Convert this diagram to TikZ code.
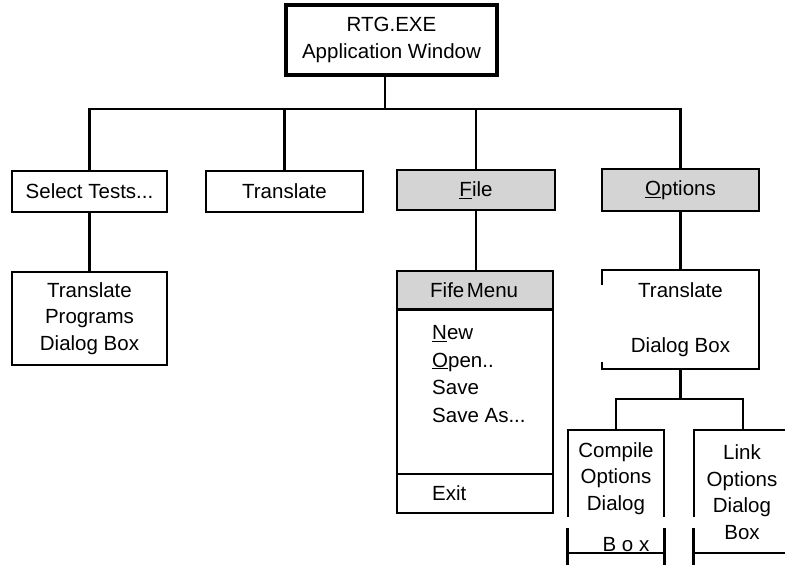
\documentclass[tikz,border=0pt]{standalone}
\usepackage{fontspec}
\setmainfont{Liberation Sans}
\begin{document}
\begin{tikzpicture}[x=1pt,y=-1pt,
  every node/.style={font=\fontsize{20.5}{26.5}\selectfont, inner sep=0pt},
  box/.style={draw, line width=2.4pt, align=center, line join=miter},
  shaded/.style={fill=black!17},
  link/.style={line width=2.4pt},
  edge/.style={line width=2.4pt, line join=miter},
  stub/.style={line width=3pt},
  txt/.style={align=center}]
\useasboundingbox (0,0) rectangle (785,565);
\clip (0,0) rectangle (785,565);

% root window
\node[box, line width=3.4pt, minimum width=211pt, minimum height=70pt] (app) at (391.5,40) {RTG.EXE\\Application Window};

% first level: menu bar items
\node[box, minimum width=155pt, minimum height=41pt] (sel) at (89.5,191.5) {Select Tests...};
\node[box, minimum width=157pt, minimum height=41pt] (tr) at (284.5,191.5) {Translate};
\node[box, shaded, minimum width=158pt, minimum height=40pt] (file) at (476,190) {\underline{F}ile};
\node[box, shaded, minimum width=157pt, minimum height=42pt] (opt) at (680.5,190) {\underline{O}ptions};

% dialog under Select Tests
\node[box, minimum width=155pt, minimum height=93pt] (progs) at (89.5,318.5) {Translate\\Programs\\Dialog Box};

% File menu
\node[shaded, minimum width=156pt, minimum height=39pt, anchor=north] (menuhead) at (475,270) {};
\node[anchor=west] (menutitle) at (430,290) {Fife\hspace{0.12em}Menu};
\draw[link] (menuhead.south west) -- (menuhead.south east);
\node[box, minimum width=156pt, minimum height=242pt, anchor=north] (menu) at (475,270) {};
\node[minimum width=156pt, minimum height=40pt, anchor=south] (exitrow) at (menu.south) {};
\draw[link] (exitrow.north west) -- (exitrow.north east);
\node[anchor=west] (exit) at (432,493) {Exit};
\node[anchor=north west, align=left, font=\fontsize{20.5}{27.7}\selectfont] (items) at (432,325)
  {\underline{N}ew\\\underline{O}pen..\\Save\\Save As...};

% Translate dialog under Options
\node[txt, minimum width=157pt, minimum height=99pt] (dlg) at (680.5,319.5) {Translate\\[28pt]Dialog Box};
\draw[edge] ([yshift=-15pt]dlg.north west) -- (dlg.north west) -- (dlg.north east)
  -- (dlg.south east) -- (dlg.south west) -- ([yshift=7pt]dlg.south west);

% Compile / Link dialogs
\node[minimum width=96pt, minimum height=135pt, anchor=north] (cmp) at (616,430) {};
\node[minimum width=98pt, minimum height=135pt, anchor=north] (lnk) at (743,430) {};
\foreach \b in {cmp,lnk} {
  \draw[edge] ([yshift=-87pt]\b.north west) -- (\b.north west) -- (\b.north east) -- ([yshift=-87pt]\b.north east);
  \draw[stub] ([yshift=-98pt]\b.north west) -- (\b.south west);
  \draw[stub] ([yshift=-98pt]\b.north east) -- (\b.south east);
  \draw[link] ([yshift=-123pt]\b.north west) -- ([yshift=-123pt]\b.north east);
}
\node[txt] (cmptext) at (616,478.5) {Compile\\Options\\Dialog};
\node (cmpbox) at (626,545) {B o x};
\node[txt] (lnktext) at (742,492) {Link\\Options\\Dialog\\Box};

% connectors
\coordinate (hub) at (385,109);
\draw[link] (hub |- app.south) -- (hub);
\draw[edge] (sel.north) |- (hub) -| (opt.north);
\draw[link] (tr.north) -- (tr.north |- hub);
\draw[link] (file.north) -- (file.north |- hub);
\draw[link] (sel.south) -- (progs.north);
\draw[link] (file.south) -- (file.south |- menu.north);
\draw[link] (opt.south) -- (opt.south |- dlg.north);
\coordinate (hub2) at (680.5,399);
\draw[link] (dlg.south) -- (hub2);
\draw[edge] (cmp.north) |- (hub2) -| (lnk.north);
\end{tikzpicture}
\end{document}
